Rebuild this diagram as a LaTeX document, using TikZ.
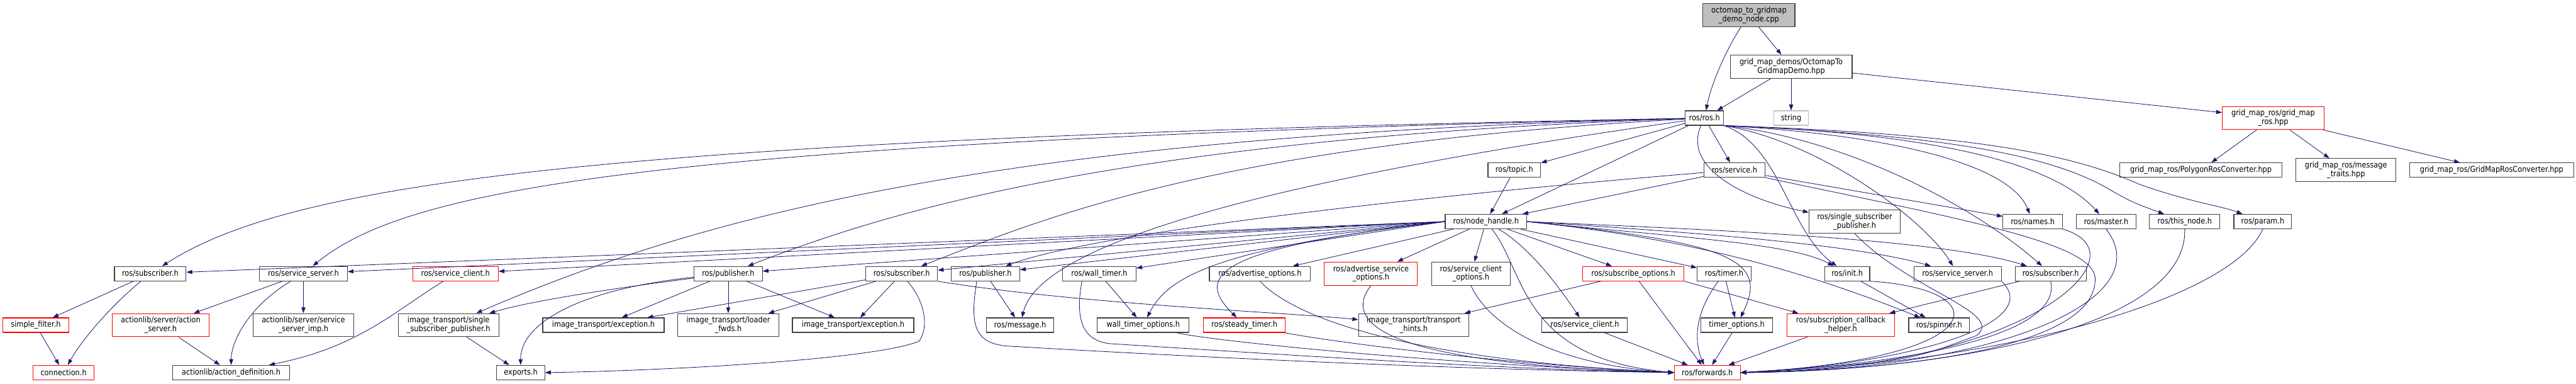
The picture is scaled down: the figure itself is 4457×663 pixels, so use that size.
\documentclass[tikz,border=0pt]{standalone}
\usepackage{fontspec}
\setmainfont{DejaVu Sans}[FakeStretch=0.88]
\usetikzlibrary{arrows.meta}
\definecolor{edgeblue}{RGB}{25,25,112}
\definecolor{boxgrey}{RGB}{64,64,64}
\definecolor{rootfill}{RGB}{191,191,191}
\definecolor{undocgrey}{RGB}{191,191,191}
\tikzset{
  file/.style={draw=boxgrey, line width=1.2pt, fill=white, inner sep=0pt, minimum height=25pt, align=center, font=\fontsize{14}{15}\selectfont},
  twoline/.style={minimum height=40pt},
  trunc/.style={draw=red},
  incl/.style={draw=edgeblue, line width=0.9pt, -{Triangle[length=10pt,width=7pt]}},
}
\begin{document}
\begin{tikzpicture}[x=1pt, y=-1pt]
\path[use as bounding box] (0,0) rectangle (4457,663);
% top of the graph
\node[file, twoline, fill=rootfill, minimum width=159pt] (root) at (3026,26) {octomap\_to\_gridmap\\\_demo\_node.cpp};
\node[file, twoline, minimum width=211pt] (demo) at (3099,115) {grid\_map\_demos/OctomapTo\\GridmapDemo.hpp};
\node[file, minimum width=66pt] (rosh) at (2949,204) {ros/ros.h};
\node[file, draw=undocgrey, minimum width=59pt] (string) at (3099,204) {string};
\node[file, twoline, trunc, minimum width=176pt] (gmros) at (3933,204) {grid\_map\_ros/grid\_map\\\_ros.hpp};
\node[file, minimum width=91pt] (topic) at (2620,294) {ros/topic.h};
\node[file, minimum width=106pt] (service) at (3001,294) {ros/service.h};
\node[file, minimum width=280pt] (polyconv) at (3808,294) {grid\_map\_ros/PolygonRosConverter.hpp};
\node[file, twoline, minimum width=173pt] (msgtraits) at (4059,294) {grid\_map\_ros/message\\\_traits.hpp};
\node[file, minimum width=284pt] (gmconv) at (4311,294) {grid\_map\_ros/GridMapRosConverter.hpp};
% row of node_handle
\node[file, minimum width=141pt] (nh) at (2571,383) {ros/node\_handle.h};
\node[file, twoline, minimum width=158pt] (ssp) at (3209,383) {ros/single\_subscriber\\\_publisher.h};
\node[file, minimum width=103pt] (names) at (3517,383) {ros/names.h};
\node[file, minimum width=103pt] (master) at (3644,383) {ros/master.h};
\node[file, minimum width=122pt] (thisnode) at (3780,383) {ros/this\_node.h};
\node[file, minimum width=100pt] (param) at (3915,383) {ros/param.h};
% middle row
\node[file, minimum width=124pt] (subL) at (260,473) {ros/subscriber.h};
\node[file, minimum width=152pt] (ssL) at (525,473) {ros/service\_server.h};
\node[file, trunc, minimum width=148pt] (scR) at (788,473) {ros/service\_client.h};
\node[file, minimum width=118pt] (pubL) at (1260,473) {ros/publisher.h};
\node[file, minimum width=124pt] (subM) at (1560,473) {ros/subscriber.h};
\node[file, minimum width=118pt] (pubM) at (1705,473) {ros/publisher.h};
\node[file, minimum width=127pt] (wtimer) at (1902,473) {ros/wall\_timer.h};
\node[file, minimum width=175pt] (advopt) at (2180,473) {ros/advertise\_options.h};
\node[file, twoline, trunc, minimum width=161pt] (advsrv) at (2372,473) {ros/advertise\_service\\\_options.h};
\node[file, twoline, minimum width=136pt] (scopt) at (2545,473) {ros/service\_client\\\_options.h};
\node[file, trunc, minimum width=175pt] (subopt) at (2826,473) {ros/subscribe\_options.h};
\node[file, minimum width=93pt] (timer) at (2983,473) {ros/timer.h};
\node[file, minimum width=78pt] (init) at (3196,473) {ros/init.h};
\node[file, minimum width=151pt] (ssR) at (3387,473) {ros/service\_server.h};
\node[file, minimum width=123pt] (subR) at (3548,473) {ros/subscriber.h};
% lower row
\node[file, trunc, minimum width=115pt] (sfilter) at (62,562) {simple\_filter.h};
\node[file, twoline, trunc, minimum width=167pt] (asrv) at (278,562) {actionlib/server/action\\\_server.h};
\node[file, twoline, minimum width=175pt] (ssimp) at (525,562) {actionlib/server/service\\\_server\_imp.h};
\node[file, twoline, minimum width=174pt] (itssp) at (776,562) {image\_transport/single\\\_subscriber\_publisher.h};
\node[file, minimum width=210pt] (itexcA) at (1044,562) {image\_transport/exception.h};
\node[file, twoline, minimum width=175pt] (loader) at (1260,562) {image\_transport/loader\\\_fwds.h};
\node[file, minimum width=210pt] (itexcB) at (1476,562) {image\_transport/exception.h};
\node[file, minimum width=116pt] (message) at (1765,562) {ros/message.h};
\node[file, minimum width=159pt] (wtopt) at (1978,562) {wall\_timer\_options.h};
\node[file, trunc, minimum width=142pt] (steady) at (2153,562) {ros/steady\_timer.h};
\node[file, twoline, minimum width=191pt] (hints) at (2446,562) {image\_transport/transport\\\_hints.h};
\node[file, minimum width=148pt] (scB) at (2742,562) {ros/service\_client.h};
\node[file, minimum width=124pt] (topt) at (3005,562) {timer\_options.h};
\node[file, twoline, trunc, minimum width=186pt] (scbh) at (3185,562) {ros/subscription\_callback\\\_helper.h};
\node[file, minimum width=105pt] (spinner) at (3355,562) {ros/spinner.h};
% bottom row
\node[file, trunc, minimum width=105pt] (conn) at (110,644) {connection.h};
\node[file, minimum width=203pt] (adef) at (400,644) {actionlib/action\_definition.h};
\node[file, minimum width=83pt] (exports) at (901,644) {exports.h};
\node[file, trunc, minimum width=114pt] (fwd) at (2954,644) {ros/forwards.h};

% includes of the source file and the demo header
\draw[incl] (root) .. controls (2990,80) and (2962,140) .. (rosh);
\draw[incl] (root) -- (demo);
\draw[incl] (demo) -- (rosh);
\draw[incl] (demo) -- (string);
\draw[incl] (demo) -- (gmros);
\draw[incl] (gmros) -- (polyconv);
\draw[incl] (gmros) -- (msgtraits);
\draw[incl] (gmros) -- (gmconv);

% ros/ros.h
\draw[incl] (rosh) -- (topic);
\draw[incl] (rosh) -- (service);
\draw[incl] (rosh) -- (nh);
\draw[incl] (rosh) .. controls (2910,290) and (3020,345) .. (ssp);
\draw[incl] (rosh.south east) .. controls (3080,250) and (3095,400) .. (init);
\draw[incl] (rosh.south east) .. controls (3150,245) and (3330,380) .. (ssR);
\draw[incl] (rosh.south east) .. controls (3200,240) and (3420,360) .. (subR);
\draw[incl] (rosh.south east) .. controls (3300,235) and (3480,290) .. (names);
\draw[incl] (rosh.south east) .. controls (3380,232) and (3560,290) .. (master);
\draw[incl] (rosh.south east) .. controls (3320,232) and (3540,260) .. (3654,330)
  .. controls (3690,350) .. (thisnode);
\draw[incl] (rosh.south east) .. controls (3350,230) and (3560,255) .. (3700,318)
  .. controls (3790,350) and (3840,355) .. (param);
\draw[incl] (rosh) .. controls (1000,240) and (500,320) .. (subL);
\draw[incl] (rosh) .. controls (1100,245) and (700,330) .. (ssL);
\draw[incl] (rosh) .. controls (1700,235) and (1200,380) .. (itssp);
\draw[incl] (rosh) .. controls (1900,240) and (1500,380) .. (pubL);
\draw[incl] (rosh) .. controls (2100,250) and (1800,380) .. (subM);
\draw[incl] (rosh) .. controls (2200,310) and (1800,420) .. (message);

% ros/service.h
\draw[incl] (service) -- (nh);
\draw[incl] (service) -- (names);
\draw[incl] (service) .. controls (2500,335) and (1900,400) .. (pubM);
\draw[incl] (service.south east) .. controls (3400,380) and (3620,420) .. (3625,480)
  .. controls (3630,600) and (3300,640) .. (fwd.east);
\draw[incl] (topic) -- (nh);

% ros/node_handle.h to the left
\draw[incl] (nh.west) -- (subL);
\draw[incl] (nh.west) -- (ssL);
\draw[incl] (nh.west) -- (scR);
\draw[incl] (nh.west) -- (pubL);
\draw[incl] (nh.west) -- (subM);
\draw[incl] (nh.west) -- (pubM);
\draw[incl] (nh.west) -- (wtimer);
\draw[incl] (nh.west) .. controls (2100,430) and (2020,480) .. (wtopt);
\draw[incl] (nh.west) .. controls (2090,430) and (2070,480) .. (steady);
% ros/node_handle.h downwards and to the right
\draw[incl] (nh) -- (advopt);
\draw[incl] (nh) -- (advsrv);
\draw[incl] (nh) -- (scopt);
\draw[incl] (nh) .. controls (2650,430) and (2700,500) .. (scB);
\draw[incl] (nh) .. controls (2640,470) and (2630,620) .. (fwd.west);
\draw[incl] (nh) -- (subopt);
\draw[incl] (nh) -- (timer);
\draw[incl] (nh.east) .. controls (2900,410) and (3100,420) .. (init);
\draw[incl] (nh.east) .. controls (2900,400) and (3200,420) .. (ssR);
\draw[incl] (nh.east) .. controls (2900,395) and (3350,410) .. (subR);
\draw[incl] (nh.east) .. controls (2950,415) and (3150,480) .. (spinner);
\draw[incl] (nh.east) .. controls (3000,420) and (3060,450) .. (topt);

% left part of the graph
\draw[incl] (subL) -- (sfilter);
\draw[incl] (subL) .. controls (190,530) and (140,590) .. (conn);
\draw[incl] (sfilter) -- (conn);
\draw[incl] (ssL) -- (asrv);
\draw[incl] (ssL) .. controls (430,530) and (400,590) .. (adef);
\draw[incl] (ssL) -- (ssimp);
\draw[incl] (asrv) -- (adef);
\draw[incl] (scR) .. controls (680,540) and (620,600) .. (adef);
\draw[incl] (pubL) .. controls (1050,500) and (920,520) .. (itssp);
\draw[incl] (pubL) .. controls (1000,500) and (900,560) .. (exports);
\draw[incl] (pubL) -- (itexcA);
\draw[incl] (pubL) -- (loader);
\draw[incl] (pubL) -- (itexcB);
\draw[incl] (itssp) -- (exports);
\draw[incl] (subM) -- (itexcA);
\draw[incl] (subM) -- (loader);
\draw[incl] (subM) -- (itexcB);
\draw[incl] ([xshift=10pt]subM.south) .. controls (1600,520) and (1608,565) .. (1590,590)
  .. controls (1500,625) and (1100,642) .. (exports.east);
\draw[incl] (subM.south east) .. controls (1860,525) and (2225,540) .. (hints);
\draw[incl] (pubM) -- (message);

% everything that ends in ros/forwards.h
\draw[incl] ([xshift=-15pt]pubM.south) .. controls (1678,560) and (1685,592) .. (1740,598)
  .. controls (2200,625) and (2600,640) .. (fwd.west);
\draw[incl] (wtimer) -- (wtopt);
\draw[incl] ([xshift=-30pt]wtimer.south) .. controls (1862,540) and (1866,588) .. (1920,594)
  .. controls (2300,618) and (2600,638) .. (fwd.west);
\draw[incl] (wtopt) .. controls (2100,590) and (2500,630) .. (fwd.west);
\draw[incl] (steady) .. controls (2300,590) and (2600,630) .. (fwd.west);
\draw[incl] (advopt.south) .. controls (2230,540) and (2400,620) .. (fwd.west);
\draw[incl] (advsrv.south) .. controls (2320,560) and (2400,630) .. (fwd.west);
\draw[incl] (scopt.south) .. controls (2575,560) and (2680,630) .. (fwd.west);
\draw[incl] (subopt) -- (hints);
\draw[incl] (subopt) -- (fwd);
\draw[incl] (subopt.south east) -- (scbh);
\draw[incl] (scB) -- (fwd);
\draw[incl] (timer) -- (topt);
\draw[incl] (timer) .. controls (2925,550) and (2935,600) .. (fwd);
\draw[incl] (topt) -- (fwd);
\draw[incl] (scbh) -- (fwd);
\draw[incl] (init) -- (spinner);
\draw[incl] (subR) -- (scbh);
\draw[incl] (ssp.south) .. controls (3300,500) and (3470,540) .. (3420,580)
  .. controls (3300,625) .. (fwd.east);
\draw[incl] (init.south east) .. controls (3460,500) and (3450,620) .. (fwd.east);
\draw[incl] (ssR.south east) .. controls (3540,560) and (3300,630) .. (fwd.east);
\draw[incl] (subR.south) .. controls (3570,580) and (3300,630) .. (fwd.east);
\draw[incl] (names.south east) .. controls (3720,440) and (3500,640) .. (fwd.east);
\draw[incl] (master.south) .. controls (3740,520) and (3450,640) .. (fwd.east);
\draw[incl] (thisnode.south) .. controls (3785,560) and (3400,640) .. (fwd.east);
\draw[incl] (param.south) .. controls (3860,520) and (3450,630) .. (fwd.east);
\end{tikzpicture}
\end{document}
